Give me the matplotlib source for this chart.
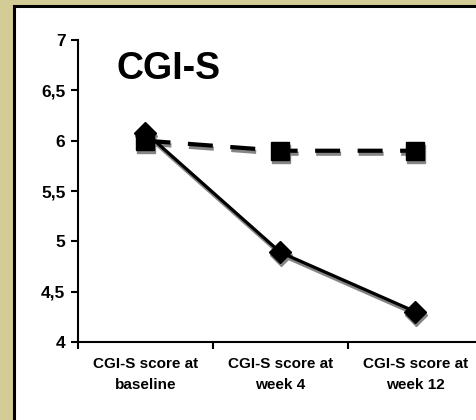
import matplotlib
matplotlib.use("Agg")
import matplotlib.pyplot as plt
from matplotlib.patches import Rectangle
from matplotlib.transforms import offset_copy, ScaledTranslation
from matplotlib import font_manager

categories = ["CGI-S score at\nbaseline", "CGI-S score at\nweek 4", "CGI-S score at\nweek 12"]
series_solid = [6.08, 4.89, 4.30]
series_dashed = [6.00, 5.90, 5.90]
yticks = [4, 4.5, 5, 5.5, 6, 6.5, 7]
ytick_labels = ["4", "4,5", "5", "5,5", "6", "6,5", "7"]
title_text = "CGI-S"

names = {f.name for f in font_manager.fontManager.ttflist}
base_font = "Liberation Sans" if "Liberation Sans" in names else "DejaVu Sans"
title_font = "Liberation Sans Narrow" if "Liberation Sans Narrow" in names else base_font
plt.rcParams['font.family'] = [base_font, 'DejaVu Sans']

fig = plt.figure(figsize=(4.77, 4.20), dpi=100)
fig.patch.set_facecolor("#d4cc96")
panel = Rectangle((14 / 477, -0.05), 1.1, (420 - 6) / 420 + 0.05, transform=fig.transFigure,
                  facecolor="white", edgecolor="black", linewidth=2.2, zorder=-5)
fig.patches.append(panel)

ax = fig.add_axes([78 / 477, 78 / 420, 405 / 477, 302 / 420])
ax.set_facecolor("none")
ax.set_zorder(2)
x = list(range(len(categories)))

shadow_tr = offset_copy(ax.transData, fig=fig, x=1, y=-3, units="dots")
dash_style = (0, (6, 4.2))

# shadows
ax.plot(x, series_dashed, color="#858585", lw=3, linestyle=dash_style, marker="s",
        markersize=12.5, transform=shadow_tr, zorder=2)
ax.plot(x, series_solid, color="#858585", lw=2.3, linestyle="-", marker="D",
        markersize=11.5, transform=shadow_tr, zorder=2)
# main lines
ax.plot(x, series_dashed, color="black", lw=3, linestyle=dash_style, marker="s",
        markersize=12.5, zorder=3)
ax.plot(x, series_solid, color="black", lw=2.3, linestyle="-", marker="D",
        markersize=11.5, zorder=4)

ax.set_xlim(-0.5, 2.5)
ax.set_ylim(4, 7)
ax.set_yticks(yticks)
ax.set_yticklabels(ytick_labels, fontsize=12.5, fontweight="bold")
ax.set_xticks([-0.5, 0.5, 1.5, 2.5])
ax.set_xticklabels([])
ax.set_xticks(x, minor=True)
ax.set_xticklabels(categories, minor=True, fontsize=11, fontweight="bold", linespacing=1.6)
shift = ScaledTranslation(5 / 100, 0, fig.dpi_scale_trans)
for lab in ax.get_xticklabels(minor=True):
    lab.set_transform(lab.get_transform() + shift)
ax.tick_params(axis="x", which="minor", length=0, pad=11)
ax.tick_params(axis="x", which="major", length=5, width=1.5, direction="out")
ax.tick_params(axis="y", length=5, width=1.5, direction="out", pad=4)
for s in ["top", "right"]:
    ax.spines[s].set_visible(False)
for s in ["left", "bottom"]:
    ax.spines[s].set_linewidth(1.5)

ax.text(0.17, 6.71, title_text, fontsize=27, fontweight="bold", family=[title_font, 'DejaVu Sans'],
        ha="center", va="center")

fig.savefig("out.png", dpi=100, facecolor=fig.get_facecolor())
